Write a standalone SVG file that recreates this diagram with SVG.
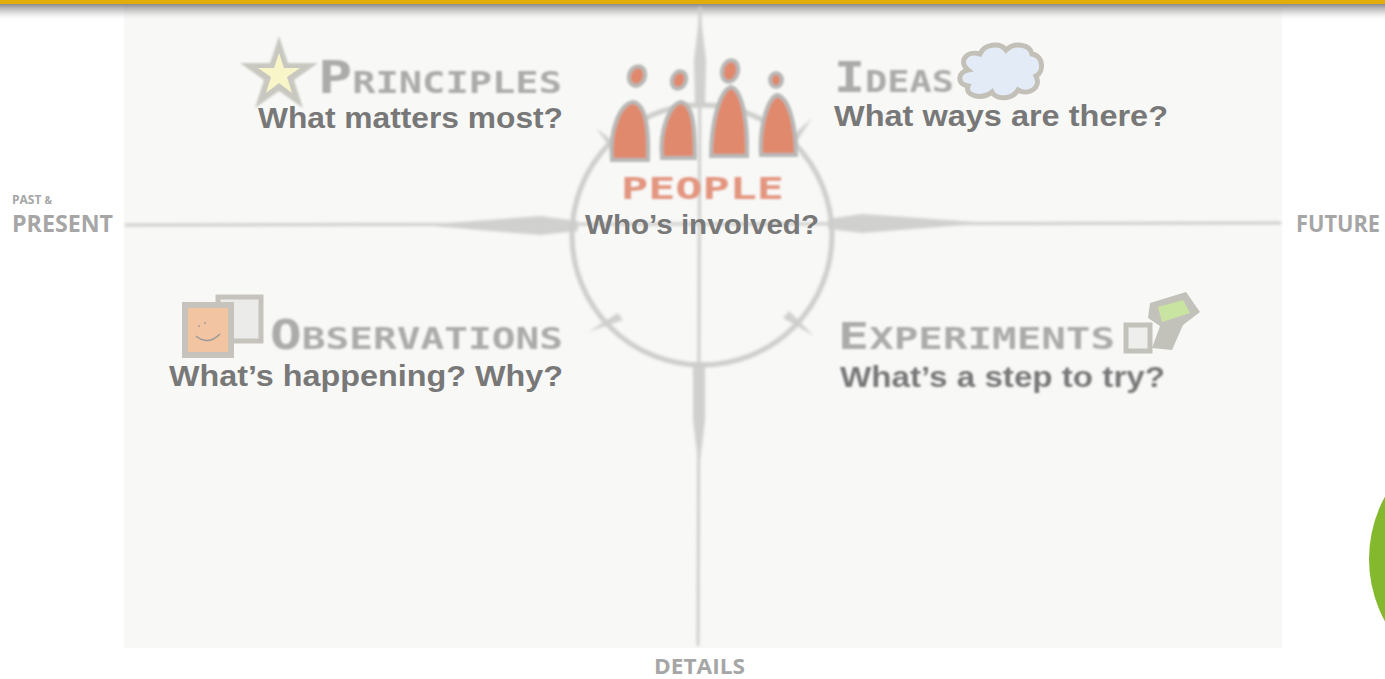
<svg xmlns="http://www.w3.org/2000/svg" width="1385" height="679" viewBox="0 0 1385 679">
  <defs>
    <linearGradient id="topShade" x1="0" y1="0" x2="0" y2="1">
      <stop offset="0" stop-color="#6e6e6e" stop-opacity="0.9"/>
      <stop offset="0.5" stop-color="#b0b0b0" stop-opacity="0.5"/>
      <stop offset="1" stop-color="#ffffff" stop-opacity="0"/>
    </linearGradient>
    <filter id="soft" x="-5%" y="-20%" width="110%" height="140%">
      <feGaussianBlur stdDeviation="0.9"/>
    </filter>
    <filter id="softer" x="-5%" y="-5%" width="110%" height="110%">
      <feGaussianBlur stdDeviation="1.4"/>
    </filter>
  </defs>
  <style>
    .q { font-family: "Liberation Sans", Arial, sans-serif; font-weight: bold; fill: #787878; }
    .head { font-family: "DejaVu Sans Mono", "Liberation Mono", monospace; font-weight: bold; fill: #ababa9; }
    .axis { font-family: "Open Sans", "Liberation Sans", sans-serif; font-weight: bold; fill: #a6a6a6; }
    .sketch { fill: #d0d0ce; }
    .line { stroke: #cdcdcb; fill: none; stroke-linecap: round; }
    .fig { fill: #e0896d; stroke: #b8b8b6; stroke-width: 4; }
  </style>

  <!-- page background and sketch paper -->
  <rect x="0" y="0" width="1385" height="679" fill="#ffffff"/>
  <rect x="124" y="5" width="1158" height="643" fill="#f8f8f7"/>

  <!-- header bar with shadow -->
  <rect x="0" y="3" width="1385" height="18" fill="url(#topShade)"/>
  <rect x="0" y="0" width="1385" height="4" fill="#e2ac0a"/>

  <!-- compass cross, circle and spikes -->
  <g id="connectors" filter="url(#softer)">
    <line class="line" x1="126" y1="225" x2="1280" y2="223" stroke-width="3"/>
    <line class="line" x1="700" y1="8" x2="698" y2="645" stroke-width="3"/>
    <g class="sketch">
      <!-- horizontal spikes -->
      <polygon points="420,225 540,216 578,221 578,231 540,235"/>
      <polygon points="990,223 862,214 828,219 828,229 862,233"/>
      <!-- vertical spikes -->
      <polygon points="700,10 706,60 705,105 695,105 694,60"/>
      <polygon points="699,470 705,420 705,362 693,362 693,420"/>
      <!-- diagonal spikes -->
      <polygon points="596,128 625,150 617,157"/>
      <polygon points="812,118 790,152 782,145"/>
      <polygon points="588,332 618,313 623,320"/>
      <polygon points="814,336 783,318 789,311"/>
    </g>
    <circle cx="702" cy="235" r="130" class="line" stroke-width="5"/>
  </g>

  <!-- People -->
  <g id="people">
    <g filter="url(#soft)">
      <ellipse class="fig" cx="637" cy="76" rx="8" ry="10" transform="rotate(20 637 76)"/>
      <path class="fig" d="M612,160 C609,130 620,104 633,102 C647,104 649,132 648,160 Z"/>
      <ellipse class="fig" cx="679" cy="80" rx="7" ry="9" transform="rotate(20 679 80)"/>
      <path class="fig" d="M662,158 C659,130 670,104 681,102 C694,104 695,132 695,158 Z"/>
      <ellipse class="fig" cx="730" cy="71" rx="8" ry="11" transform="rotate(15 730 71)"/>
      <path class="fig" d="M711,156 C711,122 720,90 731,87 C743,90 748,125 747,156 Z"/>
      <ellipse class="fig" cx="776" cy="80" rx="6" ry="7"/>
      <path class="fig" d="M761,155 C759,126 768,98 777,95 C790,98 796,128 796,155 Z"/>
    </g>
    <text x="621" y="199" font-family="'DejaVu Sans Mono', monospace" font-weight="bold" font-size="31" fill="#e3957f" textLength="163" lengthAdjust="spacingAndGlyphs" filter="url(#soft)">PEOPLE</text>
    <text class="q" x="585" y="234" font-size="28" textLength="234" lengthAdjust="spacingAndGlyphs">Who’s involved?</text>
  </g>

  <!-- Principles -->
  <g id="principles">
    <polygon points="279,36 288,63 318,63 294,80 303,108 279,91 255,108 264,80 240,63 270,63" fill="#c8c8c0" filter="url(#soft)"/>
    <polygon points="279,53 284,68 300,68 287,77 292,93 279,83 266,93 271,77 258,68 274,68" fill="#f8f6c8"/>
    <text class="head" x="318" y="93" font-size="30" textLength="244" lengthAdjust="spacingAndGlyphs" filter="url(#soft)"><tspan font-size="44">P</tspan>RINCIPLES</text>
    <text class="q" x="258" y="128" font-size="30" textLength="305" lengthAdjust="spacingAndGlyphs">What matters most?</text>
  </g>

  <!-- Ideas -->
  <g id="ideas">
    <text class="head" x="834" y="92" font-size="30" textLength="120" lengthAdjust="spacingAndGlyphs" filter="url(#soft)"><tspan font-size="42">I</tspan>DEAS</text>
    <path d="M968,70 C958,62 966,50 980,54 C984,44 1000,42 1006,50 C1014,42 1030,44 1032,54 C1044,56 1044,72 1036,76 C1042,88 1028,96 1018,90 C1012,100 996,100 992,92 C982,100 964,96 968,86 C956,84 958,72 968,70 Z" fill="#e3ebf6" stroke="#c3c0b8" stroke-width="5"/>
    <text class="q" x="834" y="126" font-size="30" textLength="334" lengthAdjust="spacingAndGlyphs">What ways are there?</text>
  </g>

  <!-- Observations -->
  <g id="observations">
    <rect x="218" y="297" width="43" height="44" fill="#ebebea" stroke="#c6c3bc" stroke-width="5"/>
    <rect x="185" y="305" width="46" height="50" fill="#f2c4a2" stroke="#c6c3bc" stroke-width="6"/>
    <path d="M196,336 Q208,346 220,334" fill="none" stroke="#9a9a98" stroke-width="1.5"/>
    <circle cx="199" cy="326" r="1" fill="#a0a0a0"/>
    <circle cx="205" cy="323" r="1" fill="#a0a0a0"/>
    <text class="head" x="270" y="349" font-size="30" textLength="293" lengthAdjust="spacingAndGlyphs" filter="url(#soft)"><tspan font-size="40">O</tspan>BSERVATIONS</text>
    <text class="q" x="169" y="386" font-size="30" textLength="394" lengthAdjust="spacingAndGlyphs">What’s happening? Why?</text>
  </g>

  <!-- Experiments -->
  <g id="experiments">
    <polygon points="1150,303 1186,292 1200,312 1183,325 1172,350 1152,348 1160,326 1148,318" fill="#c2c2ba"/>
    <polygon points="1158,307 1183,300 1190,313 1162,322" fill="#c8e4a0"/>
    <rect x="1126" y="325" width="24" height="26" fill="#eeeeec" stroke="#c2c2ba" stroke-width="5"/>
    <text class="head" x="838" y="349" font-size="30" textLength="277" lengthAdjust="spacingAndGlyphs" filter="url(#soft)"><tspan font-size="38">E</tspan>XPERIMENTS</text>
    <text class="q" x="840" y="387" font-size="29" textLength="325" lengthAdjust="spacingAndGlyphs" filter="url(#soft)">What’s a step to try?</text>
  </g>

  <!-- axis labels -->
  <g id="axis-labels">
    <text class="axis" x="12" y="204" font-size="12">PAST <tspan font-size="10">&amp;</tspan></text>
    <text class="axis" x="12" y="232" font-size="23" textLength="101" lengthAdjust="spacingAndGlyphs">PRESENT</text>
    <text class="axis" x="1296" y="232" font-size="23" textLength="84" lengthAdjust="spacingAndGlyphs">FUTURE</text>
    <text class="axis" x="654" y="674" font-size="22" textLength="91" lengthAdjust="spacingAndGlyphs">DETAILS</text>
  </g>

  <!-- green marker at the right edge -->
  <circle cx="1499" cy="559" r="130" fill="#84b92e"/>
</svg>
